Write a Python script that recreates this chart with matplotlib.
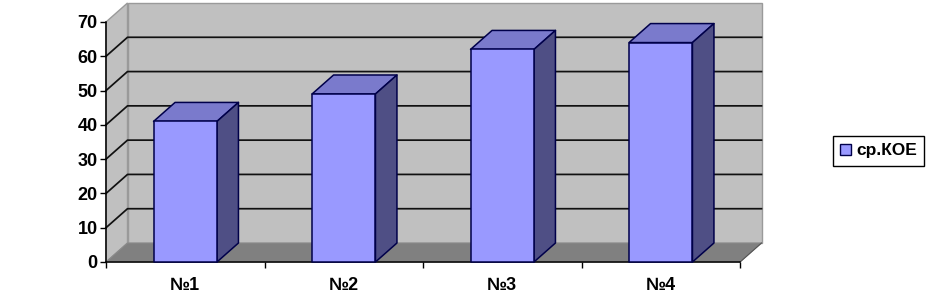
import matplotlib
matplotlib.use("Agg")
import matplotlib.pyplot as plt
from matplotlib.patches import Polygon, Patch

categories = ["№1", "№2", "№3", "№4"]
values = [41, 49, 62, 64]
series_name = "ср.КОЕ"
yticks = [0, 10, 20, 30, 40, 50, 60, 70]

W, H = 932, 296
L, R, T, B = 106, 740, 22, 262
plt.rcParams['font.family'] = ['Liberation Sans', 'DejaVu Sans']
plt.rcParams['font.weight'] = 'bold'
fig = plt.figure(figsize=(W/100, H/100), dpi=100)
ax = fig.add_axes([L/W, 1-B/H, (R-L)/W, (B-T)/H])
ax.set_xlim(-0.5, 3.5)
ax.set_ylim(0, 70)
ax.patch.set_visible(False)
for s in ['top', 'right']:
    ax.spines[s].set_visible(False)
for s in ['left', 'bottom']:
    ax.spines[s].set_linewidth(1.1)

DX = 21.5/((R-L)/4)
DY = 19/((B-T)/70)
BAR = 0.40
xl, xr = -0.5, 3.5
edge = dict(clip_on=False)

# walls
ax.add_patch(Polygon([(xl+DX, DY), (xr+DX, DY), (xr+DX, 70+DY), (xl+DX, 70+DY)],
                     fc='#C0C0C0', ec='#9a9a9a', lw=1, zorder=1, **edge))
ax.add_patch(Polygon([(xl, 0), (xl+DX, DY), (xl+DX, 70+DY), (xl, 70)],
                     fc='#C0C0C0', ec='#9a9a9a', lw=1, zorder=1, **edge))
ax.add_patch(Polygon([(xl, 0), (xr, 0), (xr+DX, DY), (xl+DX, DY)],
                     fc='#808080', ec='#8a8a8a', lw=0.8, zorder=1, **edge))
# gridlines
for v in yticks[1:-1]:
    ax.plot([xl, xl+DX, xr+DX], [v, v+DY, v+DY], color='#111111', lw=1.25, zorder=2, clip_on=False)
ax.plot([xr, xr+DX], [0, DY], color='#555555', lw=0.8, zorder=2, clip_on=False)

# bars
for i, v in enumerate(values):
    a, b = i-BAR/2, i+BAR/2
    ax.add_patch(Polygon([(a, v), (b, v), (b+DX, v+DY), (a+DX, v+DY)], fc='#7A7ACC', ec='#00004A', lw=1.1, zorder=3, joinstyle='round', **edge))
    ax.add_patch(Polygon([(b, 0), (b+DX, DY), (b+DX, v+DY), (b, v)], fc='#4F4F85', ec='#00004A', lw=1.1, zorder=3, joinstyle='round', **edge))
    ax.add_patch(Polygon([(a, 0), (b, 0), (b, v), (a, v)], fc='#9999FF', ec='#00004A', lw=1.1, zorder=4, joinstyle='round', **edge))

ax.set_yticks(yticks)
ax.set_xticks(range(len(categories)))
ax.set_xticklabels(categories)
ax.set_xticks([-0.5, 0.5, 1.5, 2.5, 3.5], minor=True)
ax.tick_params(axis='x', which='major', length=0, pad=11, labelsize=13)
ax.tick_params(axis='x', which='minor', length=4, width=1)
ax.tick_params(axis='y', length=4, width=1, pad=2, labelsize=13)

leg = ax.legend(handles=[Patch(fc='#9999FF', ec='#00004A', label=series_name)],
                loc='center left', bbox_to_anchor=((833-L)/(R-L), 1-(151-T)/(B-T)),
                borderaxespad=0, fancybox=False, edgecolor='black', framealpha=1,
                prop={'size': 12.5, 'weight': 'bold'}, handlelength=0.6, handleheight=0.65,
                handletextpad=0.3, borderpad=0.42)
leg.get_frame().set_linewidth(1.0)
fig.savefig("out.png", dpi=100)
